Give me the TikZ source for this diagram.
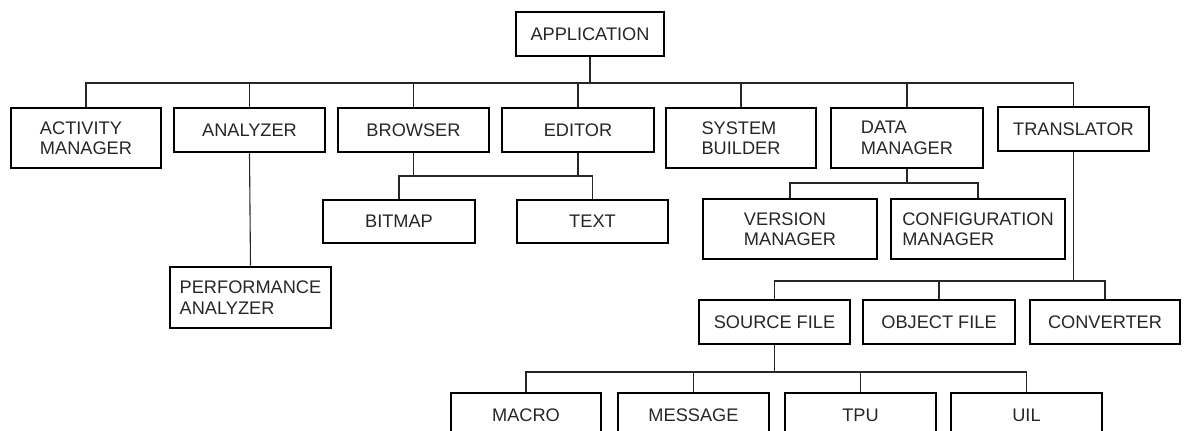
\documentclass[tikz,border=0pt]{standalone}
\usepackage{fontspec}
\setmainfont{Liberation Sans}
\begin{document}
\begin{tikzpicture}[x=1pt,y=-1pt,
  box/.style={draw=black, line width=2.9pt, inner sep=0pt, align=left,
    font=\fontsize{18.2}{20.5}\selectfont, text=black!85},
  w150/.style={box, minimum width=#1, minimum height=44},
  tall/.style={box, minimum width=#1, minimum height=60},
  link/.style={draw=black!85, line width=1.1pt}]
\useasboundingbox (0,0) rectangle (1184,431);
\clip (0,0) rectangle (1184,431);
% level 0
\node[w150=148] (app) at (590,34) {APPLICATION};
% level 1
\node[tall=150] (act) at (86,138) {ACTIVITY\\MANAGER};
\node[w150=151] (ana) at (249.5,130) {ANALYZER};
\node[w150=151] (brow) at (413.5,130) {BROWSER};
\node[w150=152] (edit) at (578,130) {EDITOR};
\node[tall=150] (sys) at (741,138) {SYSTEM\\BUILDER};
\node[tall=152] (dm) at (907,138) {DATA\\MANAGER};
\node[w150=151] (trans) at (1073.5,129) {TRANSLATOR};
% level 2
\node[box, minimum width=152, minimum height=43] (bit) at (399,221.5) {BITMAP};
\node[box, minimum width=151, minimum height=43] (txt) at (592.5,221.5) {TEXT};
\node[tall=174] (ver) at (790,229) {VERSION\\MANAGER};
\node[tall=174] (conf) at (978,229) {CONFIGURATION\\MANAGER};
\node[box, minimum width=161, minimum height=61] (perf) at (250.5,297.5) {PERFORMANCE\\ANALYZER};
% translator children
\node[w150=151] (src) at (774.5,322) {SOURCE FILE};
\node[w150=152] (obj) at (939,322) {OBJECT FILE};
\node[w150=150] (conv) at (1105,322) {CONVERTER};
% source file children
\node[w150=150] (mac) at (526,415) {MACRO};
\node[w150=151] (msg) at (693.5,415) {MESSAGE};
\node[w150=151] (tpu) at (860.5,415) {TPU};
\node[w150=151] (uil) at (1026.5,415) {UIL};
% bus levels
\coordinate (b1) at (0,83);
\coordinate (b2) at (0,176);
\coordinate (b3) at (0,183);
\coordinate (b4) at (0,281);
\coordinate (b5) at (0,372);
% application bus
\draw[link] (app.south) -- (app.south |- b1);
\draw[link] (act.north) -- (act.north |- b1) -- (trans.north |- b1) -- (trans.north);
\foreach \n in {ana,brow,edit,sys,dm} \draw[link] (\n.north) -- (\n.north |- b1);
% analyzer
\draw[link] (ana.south) -- (perf.north);
% browser / editor
\draw[link] (brow.south) -- (brow.south |- b2);
\draw[link] (edit.south) -- (edit.south |- b2);
\draw[link] (bit.north) -- (bit.north |- b2) -- (txt.north |- b2) -- (txt.north);
% data manager
\draw[link] (dm.south) -- (dm.south |- b3);
\draw[link] (ver.north) -- (ver.north |- b3) -- (conf.north |- b3) -- (conf.north);
% translator
\draw[link] (trans.south) -- (trans.south |- b4);
\draw[link] (src.north) -- (src.north |- b4) -- (conv.north |- b4) -- (conv.north);
\draw[link] (obj.north) -- (obj.north |- b4);
% source file
\draw[link] (src.south) -- (src.south |- b5);
\draw[link] (mac.north) -- (mac.north |- b5) -- (uil.north |- b5) -- (uil.north);
\draw[link] (msg.north) -- (msg.north |- b5);
\draw[link] (tpu.north) -- (tpu.north |- b5);
\end{tikzpicture}
\end{document}
